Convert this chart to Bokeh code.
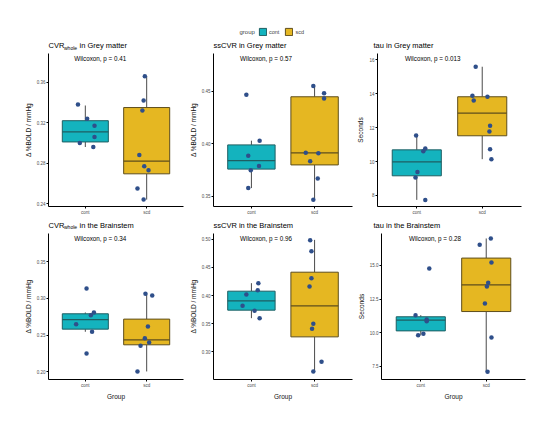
from bokeh.plotting import figure
from bokeh.models import (FixedTicker, PrintfTickFormatter, Label, Range1d,
                          Legend, LegendItem)
from bokeh.layouts import column, row
from bokeh.embed import file_html
from bokeh.resources import INLINE

# ---------------- data ----------------
groups = ["cont", "scd"]
group_pos = [1, 2]
cont_color = "#14B3BE"
scd_color = "#E5B722"
cont_edge = "#1E5E62"
scd_edge = "#5E4E1C"

# CVR_whole in Grey matter
cvr_gm_cont = [0.338, 0.324, 0.317, 0.306, 0.300, 0.296]
cvr_gm_scd = [0.366, 0.342, 0.332, 0.288, 0.277, 0.273, 0.255, 0.244]
cvr_gm_box_cont = [0.296, 0.301, 0.311, 0.322, 0.337]   # lower whisker, q1, median, q3, upper whisker
cvr_gm_box_scd = [0.244, 0.2695, 0.282, 0.335, 0.366]
cvr_gm_p = "Wilcoxon, p = 0.41"
cvr_gm_ticks = [0.24, 0.28, 0.32, 0.36]

# ssCVR in Grey matter
sscvr_gm_cont = [0.4466, 0.403, 0.3886, 0.379, 0.375, 0.358]
sscvr_gm_scd = [0.455, 0.448, 0.443, 0.3915, 0.391, 0.3835, 0.367, 0.347]
sscvr_gm_box_cont = [0.358, 0.376, 0.384, 0.399, 0.403]
sscvr_gm_box_scd = [0.347, 0.380, 0.3915, 0.4447, 0.455]
sscvr_gm_p = "Wilcoxon, p = 0.57"
sscvr_gm_ticks = [0.35, 0.40, 0.45]

# tau in Grey matter
tau_gm_cont = [11.53, 10.77, 10.61, 9.39, 9.06, 7.74]
tau_gm_scd = [15.59, 13.88, 13.82, 13.60, 12.11, 11.77, 10.73, 10.14]
tau_gm_box_cont = [7.74, 9.16, 9.98, 10.69, 11.53]
tau_gm_box_scd = [10.14, 11.52, 12.85, 13.82, 15.59]
tau_gm_p = "Wilcoxon, p = 0.013"
tau_gm_ticks = [8, 10, 12, 14, 16]

# CVR_whole in the Brainstem
cvr_bs_cont = [0.3136, 0.2808, 0.2771, 0.2648, 0.2544, 0.2248]
cvr_bs_scd = [0.3063, 0.304, 0.2617, 0.2457, 0.2398, 0.2352, 0.2002]
cvr_bs_box_cont = [0.2544, 0.258, 0.271, 0.279, 0.2808]
cvr_bs_box_scd = [0.2002, 0.2366, 0.2434, 0.2717, 0.3063]
cvr_bs_p = "Wilcoxon, p = 0.34"
cvr_bs_ticks = [0.20, 0.25, 0.30, 0.35]

# ssCVR in the Brainstem
sscvr_bs_cont = [0.4219, 0.4095, 0.4018, 0.3817, 0.3728, 0.3598]
sscvr_bs_scd = [0.4982, 0.4787, 0.4308, 0.416, 0.3497, 0.3408, 0.2822, 0.265]
sscvr_bs_box_cont = [0.3598, 0.374, 0.3905, 0.4077, 0.4219]
sscvr_bs_box_scd = [0.265, 0.3266, 0.3817, 0.4414, 0.4988]
sscvr_bs_p = "Wilcoxon, p = 0.96"
sscvr_bs_ticks = [0.30, 0.35, 0.40, 0.45, 0.50]

# tau in the Brainstem
tau_bs_cont = [14.78, 11.30, 10.98, 10.85, 9.91, 9.81]
tau_bs_scd = [17.01, 16.54, 15.22, 13.71, 13.44, 12.17, 9.64, 7.08]
tau_bs_box_cont = [9.81, 10.13, 10.93, 11.18, 11.30]
tau_bs_box_scd = [7.08, 11.57, 13.56, 15.55, 17.01]
tau_bs_p = "Wilcoxon, p = 0.28"
tau_bs_ticks = [7.5, 10.0, 12.5, 15.0]

# horizontal jitter of the points (in category units)
jit_cvr_gm_cont = [-0.12, 0.03, 0.15, 0.15, -0.09, 0.13]
jit_cvr_gm_scd = [-0.03, -0.05, -0.07, -0.12, -0.04, 0.03, -0.15, -0.05]
jit_sscvr_gm_cont = [-0.08, 0.13, -0.05, 0.12, -0.01, -0.05]
jit_sscvr_gm_scd = [-0.02, 0.15, 0.15, -0.14, 0.06, -0.07, 0.05, -0.02]
jit_tau_gm_cont = [-0.01, 0.13, 0.10, 0.01, -0.02, 0.13]
jit_tau_gm_scd = [-0.10, -0.15, 0.08, -0.13, 0.12, 0.11, 0.12, 0.14]
jit_cvr_bs_cont = [0.02, 0.14, 0.09, -0.15, 0.11, 0.02]
jit_cvr_bs_scd = [-0.02, 0.09, 0.02, -0.03, 0.04, -0.10, -0.15]
jit_sscvr_bs_cont = [0.11, 0.10, -0.08, -0.14, 0.05, 0.13]
jit_sscvr_bs_scd = [-0.07, -0.05, -0.05, -0.08, -0.02, -0.04, 0.11, -0.02]
jit_tau_bs_cont = [0.13, -0.08, 0.09, 0.09, 0.04, -0.04]
jit_tau_bs_scd = [0.07, -0.10, 0.08, 0.03, 0.01, -0.02, 0.08, 0.02]

FONT = "Liberation Sans"
BOLD_LABEL = "\u0394 %BOLD / mmHg"

# layout of the three columns: (left border, frame width, right border)
COLS = [(48, 135, 2), (28, 139, 2), (19, 144, 2)]
TOTAL_W = sum(sum(c) for c in COLS)
R1H, R2H = 153, 146


def make_panel(ylab, xlab, yrange, yticks, yfmt, vals, jits, boxes, ptext,
               col, frame_h, bottom):
    left, frame_w, right = col
    p = figure(frame_width=frame_w, frame_height=frame_h,
               x_range=Range1d(0.4, 2.6), y_range=Range1d(*yrange),
               toolbar_location=None, output_backend="svg",
               min_border_left=left, min_border_right=right,
               min_border_top=0, min_border_bottom=bottom)
    p.grid.visible = False
    p.outline_line_color = None
    p.title.visible = False

    fills = [cont_color, scd_color]
    edges = [cont_edge, scd_edge]
    for pos, v, j, b, c, e in zip(group_pos, vals, jits, boxes, fills, edges):
        wlo, q1, med, q3, whi = b
        p.segment(x0=[pos, pos], y0=[q3, q1], x1=[pos, pos], y1=[whi, wlo],
                  line_color="#4a4a4a", line_width=1)
        p.vbar(x=[pos], bottom=[q1], top=[q3], width=0.75,
               fill_color=c, line_color=e, line_width=1)
        p.segment(x0=[pos - 0.375], y0=[med], x1=[pos + 0.375], y1=[med],
                  line_color=e, line_width=1.2)
        p.scatter(x=[pos + d for d in j], y=v, size=4.5,
                  fill_color="#2F4F8A", line_color=None)

    p.xaxis.ticker = FixedTicker(ticks=group_pos)
    p.xaxis.major_label_overrides = {pos: g for pos, g in zip(group_pos, groups)}
    p.yaxis.ticker = FixedTicker(ticks=yticks)
    p.yaxis.formatter = PrintfTickFormatter(format=yfmt)
    for ax in (p.xaxis[0], p.yaxis[0]):
        ax.axis_line_color = "black"
        ax.axis_line_width = 1
        ax.major_tick_line_color = "black"
        ax.major_tick_out = 2
        ax.major_tick_in = 0
        ax.minor_tick_line_color = None
        ax.major_label_text_font = FONT
        ax.major_label_text_font_size = "4.5px"
        ax.major_label_text_color = "#4d4d4d"
        ax.major_label_standoff = 1
        ax.axis_label_text_font = FONT
        ax.axis_label_text_font_size = "6.5px"
        ax.axis_label_text_font_style = "normal"
        ax.axis_label_text_color = "#111111"
        ax.axis_label_standoff = 2
    p.yaxis.axis_label = ylab
    p.xaxis.axis_label = xlab

    p.add_layout(Label(x=0.82, y=frame_h - 5, y_units="screen", text=ptext,
                       text_font=FONT, text_font_size="6.3px",
                       text_baseline="middle", text_align="left", text_color="black"))
    return p


def strip(height):
    s = figure(width=TOTAL_W, height=height, x_range=Range1d(0, 1), y_range=Range1d(0, 1),
               toolbar_location=None, output_backend="svg", min_border=0)
    s.axis.visible = False
    s.grid.visible = False
    s.outline_line_color = None
    s.title.visible = False
    return s


def add_titles(s, titles, y):
    x0 = 0
    for col, parts in zip(COLS, titles):
        fx = x0 + col[0]
        for text, size, dx, dy in parts:
            s.add_layout(Label(x=fx + dx, y=y + dy, x_units="screen", y_units="screen",
                               text=text, text_font=FONT, text_font_size=size,
                               text_baseline="middle", text_align="left",
                               text_color="black"))
        x0 += sum(col)


def cvr_title(rest):
    return [("CVR", "7.5px", 0, 0), ("whole", "5px", 15.5, -2), (rest, "7.5px", 31, 0)]


row1_titles = [cvr_title("in Grey matter"),
               [("ssCVR in Grey matter", "7.5px", 0, 0)],
               [("tau in Grey matter", "7.5px", 0, 0)]]
row2_titles = [cvr_title("in the Brainstem"),
               [("ssCVR in the Brainstem", "7.5px", 0, 0)],
               [("tau in the Brainstem", "7.5px", 0, 0)]]

p1 = make_panel(BOLD_LABEL, None, (0.2372, 0.3884), cvr_gm_ticks, "%.2f",
                [cvr_gm_cont, cvr_gm_scd], [jit_cvr_gm_cont, jit_cvr_gm_scd],
                [cvr_gm_box_cont, cvr_gm_box_scd], cvr_gm_p, COLS[0], R1H, 10)
p2 = make_panel(BOLD_LABEL, None, (0.3405, 0.4858), sscvr_gm_ticks, "%.2f",
                [sscvr_gm_cont, sscvr_gm_scd], [jit_sscvr_gm_cont, jit_sscvr_gm_scd],
                [sscvr_gm_box_cont, sscvr_gm_box_scd], sscvr_gm_p, COLS[1], R1H, 10)
p3 = make_panel("Seconds", None, (7.35, 16.37), tau_gm_ticks, "%.0f",
                [tau_gm_cont, tau_gm_scd], [jit_tau_gm_cont, jit_tau_gm_scd],
                [tau_gm_box_cont, tau_gm_box_scd], tau_gm_p, COLS[2], R1H, 10)
p4 = make_panel(BOLD_LABEL, "Group", (0.1892, 0.3887), cvr_bs_ticks, "%.2f",
                [cvr_bs_cont, cvr_bs_scd], [jit_cvr_bs_cont, jit_cvr_bs_scd],
                [cvr_bs_box_cont, cvr_bs_box_scd], cvr_bs_p, COLS[0], R2H, 20)
p5 = make_panel(BOLD_LABEL, "Group", (0.2509, 0.5101), sscvr_bs_ticks, "%.2f",
                [sscvr_bs_cont, sscvr_bs_scd], [jit_sscvr_bs_cont, jit_sscvr_bs_scd],
                [sscvr_bs_box_cont, sscvr_bs_box_scd], sscvr_bs_p, COLS[1], R2H, 20)
p6 = make_panel("Seconds", "Group", (6.51, 17.38), tau_bs_ticks, "%.1f",
                [tau_bs_cont, tau_bs_scd], [jit_tau_bs_cont, jit_tau_bs_scd],
                [tau_bs_box_cont, tau_bs_box_scd], tau_bs_p, COLS[2], R2H, 20)

# ---------------- header strip: legend + first-row titles ----------------
head = strip(53)
nan = float("nan")
r_cont = head.vbar(x=[nan], top=[nan], width=0.1, fill_color=cont_color,
                   line_color=cont_edge, line_width=1)
r_scd = head.vbar(x=[nan], top=[nan], width=0.1, fill_color=scd_color,
                  line_color=scd_edge, line_width=1)
legend = Legend(items=[LegendItem(label=groups[0], renderers=[r_cont]),
                       LegendItem(label=groups[1], renderers=[r_scd])],
                orientation="horizontal", location=(258, 17),
                glyph_width=9, glyph_height=9, label_height=9, label_width=10,
                label_standoff=2, spacing=5, padding=0, margin=0,
                border_line_color=None, background_fill_alpha=0,
                label_text_font=FONT, label_text_font_size="5.5px")
head.add_layout(legend)
head.add_layout(Label(x=239, y=22, x_units="screen", y_units="screen", text="group",
                      text_font=FONT, text_font_size="6px", text_baseline="middle",
                      text_align="left"))
add_titles(head, row1_titles, 8)

mid = strip(16)
add_titles(mid, row2_titles, 8.5)

layout = column(head, row(p1, p2, p3), mid, row(p4, p5, p6))

open("out.html", "w").write(file_html(layout, INLINE))
